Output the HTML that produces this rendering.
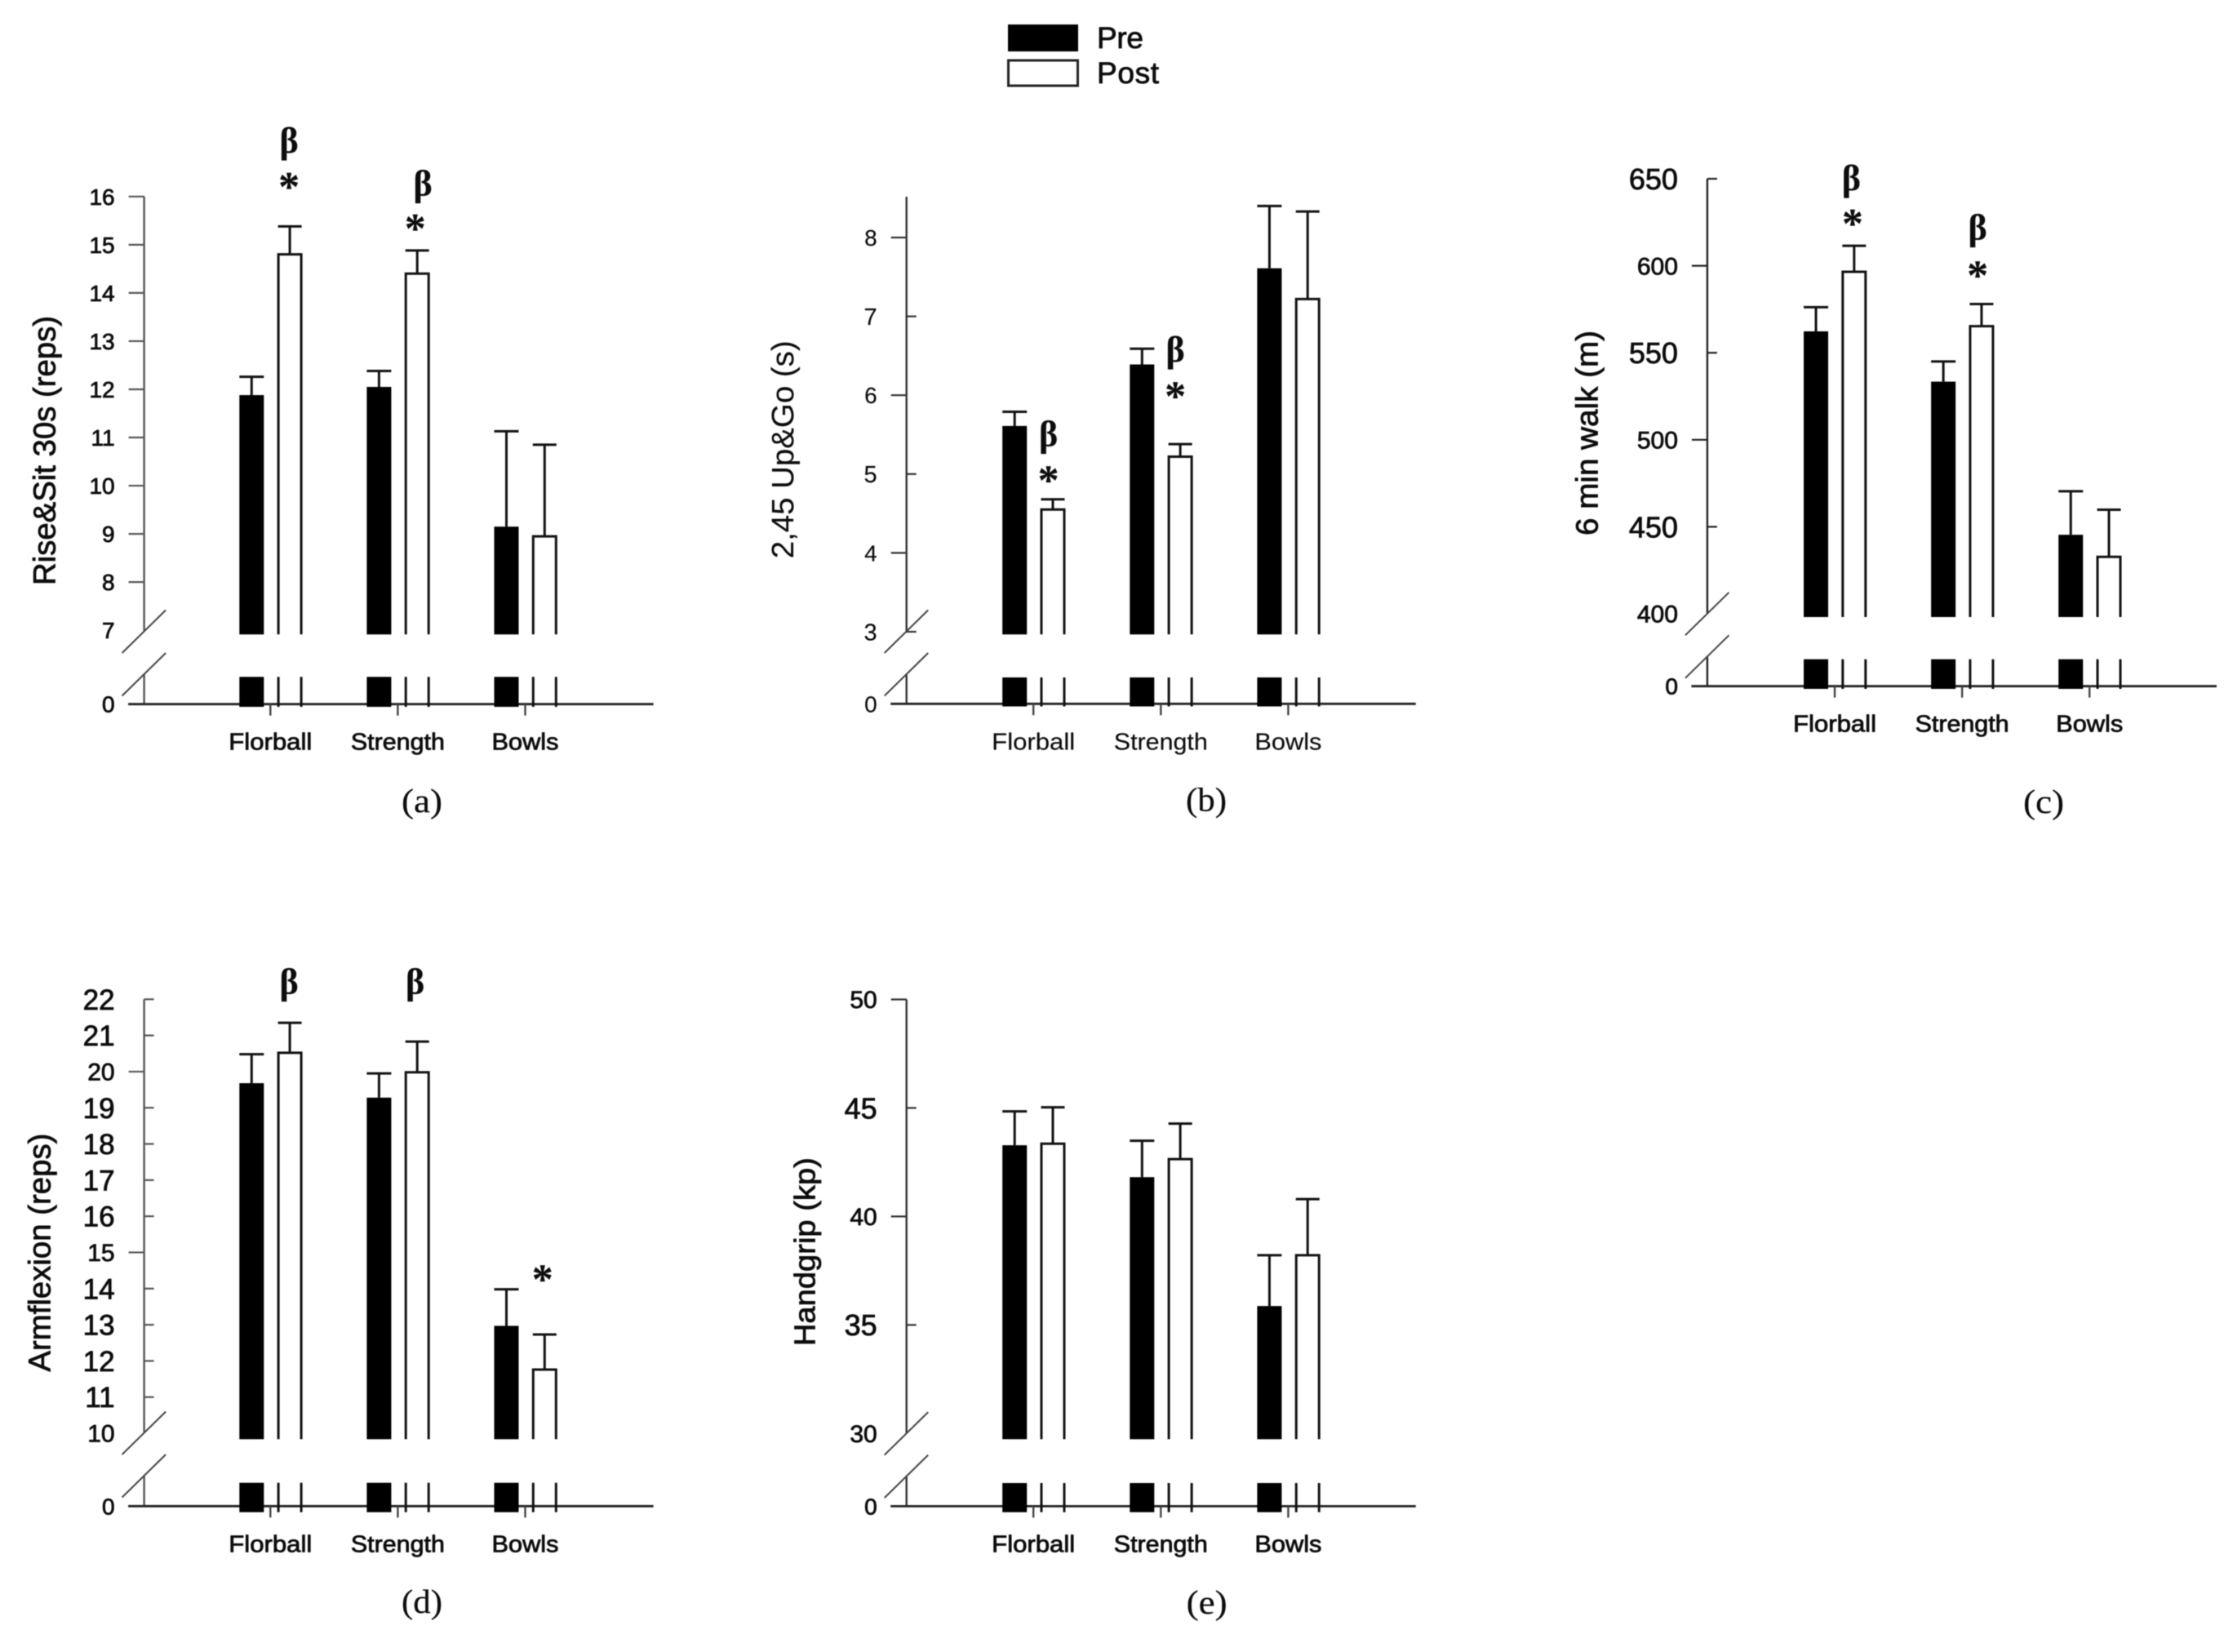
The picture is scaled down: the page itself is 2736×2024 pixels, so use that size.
<!DOCTYPE html>
<html lang="en">
<head>
<meta charset="utf-8">
<title>Pre and post physical test results</title>
<style>
html,body{margin:0;padding:0;background:#fff;width:2736px;height:2024px;overflow:hidden}
svg{position:absolute;left:0;top:0;display:block;filter:blur(.6px)}
text{font-family:"Liberation Sans",sans-serif;fill:#0c0c0c;stroke:#0c0c0c;stroke-width:.8px}
.light text{stroke-width:.15px}
text.serif{font-family:"Liberation Serif",serif;stroke-width:.2px}
</style>
</head>
<body>
<svg id="chart" xmlns="http://www.w3.org/2000/svg" width="2736" height="2024" viewBox="0 0 2736 2024">
  <rect x="0" y="0" width="2736" height="2024" fill="#fff"/>
  <g>
    <rect x="1235" y="30" width="86" height="33" fill="#000"/>
    <text x="1344" y="59" font-size="37" textLength="57">Pre</text>
    <rect x="1235.5" y="74" width="85" height="31" fill="#fff" stroke="#222" stroke-width="3"/>
    <text x="1344" y="102" font-size="37" textLength="76">Post</text>
  </g>
  <g id="panels"></g>
</svg>
<script>
const categories = ['Florball', 'Strength', 'Bowls'];

const riseTicks = [16, 15, 14, 13, 12, 11, 10, 9, 8, 7];
const risePre = [11.88, 12.05, 9.15];
const risePost = [14.8, 14.4, 8.95];
const risePreErrTop = [12.26, 12.38, 11.13];
const risePostErrTop = [15.38, 14.88, 10.85];

const upGoTicks = [8, 7, 6, 5, 4, 3];
const upGoPre = [5.61, 6.39, 7.61];
const upGoPost = [4.55, 5.22, 7.22];
const upGoPreErrTop = [5.79, 6.59, 8.4];
const upGoPostErrTop = [4.68, 5.38, 8.33];

const walkTicks = [650, 600, 550, 500, 450, 400];
const walkPre = [562.3, 533.4, 445.4];
const walkPost = [596.5, 565.3, 432.7];
const walkPreErrTop = [576.2, 545, 470.4];
const walkPostErrTop = [611.5, 578, 459.8];

const armTicks = [22, 21, 20, 19, 18, 17, 16, 15, 14, 13, 12, 11, 10];
const armPre = [19.68, 19.28, 12.97];
const armPost = [20.52, 19.98, 11.76];
const armPreErrTop = [20.48, 19.95, 13.98];
const armPostErrTop = [21.35, 20.83, 12.73];

const gripTicks = [50, 45, 40, 35, 30];
const gripPre = [43.28, 41.81, 35.87];
const gripPost = [43.35, 42.64, 38.21];
const gripPreErrTop = [44.84, 43.49, 38.21];
const gripPostErrTop = [45.03, 44.28, 40.8];

const SVGNS = 'http://www.w3.org/2000/svg';
const root = document.getElementById('panels');

function add(tag, attrs, parent) {
  const node = document.createElementNS(SVGNS, tag);
  for (const k in attrs) node.setAttribute(k, attrs[k]);
  parent.appendChild(node);
  return node;
}

function line(x1, y1, x2, y2, sw, color, parent) {
  return add('line', {x1: x1, y1: y1, x2: x2, y2: y2, 'stroke-width': sw, stroke: color}, parent);
}

function drawPanel(p) {
  const g = add('g', {class: p.light ? 'light' : ''}, root);
  
  

  const low = p.ticks[p.ticks.length - 1];
  const high = p.ticks[0];
  const yScale = v => p.yLowPx + (low - v) * (p.yLowPx - p.yHighPx) / (high - low);
  const xCat = i => p.firstCatX + i * 156.1;

  // y axis (broken)
  const upperAxis = line(p.axisX, p.axisTopPx, p.axisX, p.slashY - 27, 2.4, p.axisColor, g);
  
  
  const lowerAxis = line(p.axisX, p.slashY + 25.5, p.axisX, p.baseline, 2.4, p.axisColor, g);
  
  

  // axis-break slashes
  [0, 52.5].forEach(function (dy) {
    const s = line(p.axisX - 27, p.slashY + dy, p.axisX + 26.5, p.slashY + dy - 52.5, 2, '#444', g);
    
    
  });

  // x axis
  const xAxis = line(p.axisX - 19.5, p.baseline, p.axisX + 624, p.baseline, 2.8, '#222', g);
  
  

  // y ticks and labels
  p.ticks.forEach(function (t) {
    const y = yScale(t);
    const major = p.majorTicks.indexOf(t) >= 0;
    const showMark = t !== low || p.lowTick;
    if (showMark) {
      const tk = major ? line(p.axisX - 19, y, p.axisX, y, 2.2, p.axisColor, g)
                       : line(p.axisX, y, p.axisX + 12, y, 2.2, p.axisColor, g);
      
      
    }
    const size = major ? p.majorFont : p.minorFont;
    const lb = add('text', {x: p.axisX - 36, y: y + size * 0.358, 'font-size': size, 'text-anchor': 'end'}, g);
    lb.textContent = t;
    
    
  });
  const zeroLabel = add('text', {x: p.axisX - 36, y: p.baseline + 10, 'font-size': 28, 'text-anchor': 'end'}, g);
  zeroLabel.textContent = '0';
  
  

  // y title
  const title = add('text', {
    x: p.titleX, y: p.titleY, 'font-size': p.titleFont, 'text-anchor': 'middle',
    textLength: p.titleLen, lengthAdjust: 'spacingAndGlyphs',
    transform: 'rotate(-90 ' + p.titleX + ' ' + p.titleY + ')'
  }, g);
  title.textContent = p.title;
  
  

  // categories and bars
  const labelWidths = [102, 115, 82];
  categories.forEach(function (cat, i) {
    const cx = xCat(i);

    const tick = line(cx, p.baseline, cx, p.baseline + 14, 2.4, '#444', g);
    
    

    const label = add('text', {
      x: cx, y: p.baseline + 56, 'font-size': 29, 'text-anchor': 'middle',
      textLength: labelWidths[i], lengthAdjust: 'spacingAndGlyphs'
    }, g);
    label.textContent = cat;
    
    

    // Pre bar: solid, broken at the axis break
    const preUpper = add('rect', {
      x: cx - 38, y: yScale(p.pre[i]), width: 30, height: p.upperBottom - yScale(p.pre[i]), fill: '#000'
    }, g);
    
    
    const preLower = add('rect', {
      x: cx - 38, y: p.lowerTop, width: 30, height: p.barFoot - p.lowerTop, fill: '#000'
    }, g);
    
    

    // Pre error bar
    const preStem = line(cx - 23, yScale(p.preErr[i]), cx - 23, yScale(p.pre[i]), 3, '#111', g);
    
    
    const preCap = line(cx - 38, yScale(p.preErr[i]), cx - 8, yScale(p.preErr[i]), 3, '#111', g);
    
    

    // Post bar: outline, broken at the axis break
    const yPost = yScale(p.post[i]);
    const postUpper = add('path', {
      d: 'M' + (cx + 9.8) + ' ' + p.upperBottom + 'V' + yPost + 'H' + (cx + 37.8) + 'V' + p.upperBottom,
      fill: '#fff', stroke: '#111', 'stroke-width': 3
    }, g);
    
    
    [9.8, 37.8].forEach(function (dx) {
      const edge = line(cx + dx, p.lowerTop, cx + dx, p.barFoot, 3, '#111', g);
      
      
    });

    // Post error bar
    const postStem = line(cx + 23.8, yScale(p.postErr[i]), cx + 23.8, yPost, 3, '#111', g);
    
    
    const postCap = line(cx + 9.3, yScale(p.postErr[i]), cx + 38.3, yScale(p.postErr[i]), 3, '#111', g);
    
    
  });

  // significance markers: [symbol, position on the category axis (0, 1, 2), value on the y axis]
  p.notes.forEach(function (n) {
    const isBeta = n[0] === 'β';
    const size = isBeta ? 44 : 52;
    const offset = isBeta ? 11 : 21;
    const mark = add('text', {
      x: xCat(n[1]), y: yScale(n[2]) + offset, 'font-size': size,
      'font-weight': 'bold', 'text-anchor': 'middle', class: 'serif'
    }, g);
    mark.textContent = n[0];
    
    
  });

  // panel letter
  const tag = add('text', {
    x: p.tagX, y: p.tagY + 10, 'font-size': 41, 'text-anchor': 'middle', class: 'serif',
    textLength: 50, lengthAdjust: 'spacingAndGlyphs'
  }, g);
  tag.textContent = '(' + p.id + ')';
  
  
}

drawPanel({
  id: 'a', title: 'Rise&Sit 30s (reps)', titleX: 67.7, titleY: 552, titleLen: 330, titleFont: 38,
  ticks: riseTicks, majorTicks: riseTicks, majorFont: 28, minorFont: 28, lowTick: false,
  pre: risePre, post: risePost, preErr: risePreErrTop, postErr: risePostErrTop,
  axisX: 176.6, axisTopPx: 240.8, yHighPx: 240.8, yLowPx: 772.2, axisColor: '#555',
  baseline: 862.7, upperBottom: 777.3, lowerTop: 829.3, barFoot: 866, slashY: 800,
  firstCatX: 331.3, tagX: 517, tagY: 985,
  notes: [['β', 0.146, 17.1], ['*', 0.146, 16.27], ['β', 1.197, 16.21], ['*', 1.137, 15.4]]
});

drawPanel({
  id: 'b', light: true, title: '2,45 Up&Go (s)', titleX: 971.8, titleY: 550.8, titleLen: 267, titleFont: 38,
  ticks: upGoTicks, majorTicks: [8, 6, 4], majorFont: 28, minorFont: 29, lowTick: true,
  pre: upGoPre, post: upGoPost, preErr: upGoPreErrTop, postErr: upGoPostErrTop,
  axisX: 1110.7, axisTopPx: 241, yHighPx: 291, yLowPx: 774, axisColor: '#333',
  baseline: 862.3, upperBottom: 777.3, lowerTop: 830, barFoot: 865.5, slashY: 800,
  firstCatX: 1266.2, tagX: 1478, tagY: 983.6,
  notes: [['β', 0.118, 5.47], ['*', 0.118, 4.96], ['β', 1.114, 6.54], ['*', 1.114, 6.03]]
});

drawPanel({
  id: 'c', title: '6 min walk (m)', titleX: 1957.3, titleY: 530.5, titleLen: 251, titleFont: 38,
  ticks: walkTicks, majorTicks: [600, 500, 400], majorFont: 30, minorFont: 36, lowTick: false,
  pre: walkPre, post: walkPost, preErr: walkPreErrTop, postErr: walkPostErrTop,
  axisX: 2091.9, axisTopPx: 219, yHighPx: 219, yLowPx: 752, axisColor: '#222',
  baseline: 840.7, upperBottom: 756, lowerTop: 807.7, barFoot: 844, slashY: 778.3,
  firstCatX: 2248, tagX: 2504, tagY: 986,
  notes: [['β', 0.13, 648.7], ['*', 0.14, 626], ['β', 1.122, 620.2], ['*', 1.122, 596.2]]
});

drawPanel({
  id: 'd', title: 'Armflexion (reps)', titleX: 61.4, titleY: 1534.6, titleLen: 292, titleFont: 38,
  ticks: armTicks, majorTicks: [20, 15, 10], majorFont: 30, minorFont: 35, lowTick: false,
  pre: armPre, post: armPost, preErr: armPreErrTop, postErr: armPostErrTop,
  axisX: 176.6, axisTopPx: 1224.3, yHighPx: 1224.3, yLowPx: 1756, axisColor: '#555',
  baseline: 1845.3, upperBottom: 1763.3, lowerTop: 1816.7, barFoot: 1852.7, slashY: 1782,
  firstCatX: 331.3, tagX: 517, tagY: 1966,
  notes: [['β', 0.146, 22.4], ['β', 1.136, 22.4], ['*', 2.136, 14.34]]
});

drawPanel({
  id: 'e', title: 'Handgrip (kp)', titleX: 998.7, titleY: 1533.6, titleLen: 231, titleFont: 36,
  ticks: gripTicks, majorTicks: [50, 40, 30], majorFont: 30, minorFont: 36, lowTick: false,
  pre: gripPre, post: gripPost, preErr: gripPreErrTop, postErr: gripPostErrTop,
  axisX: 1110.7, axisTopPx: 1224.5, yHighPx: 1224.5, yLowPx: 1756.2, axisColor: '#333',
  baseline: 1845.4, upperBottom: 1763.3, lowerTop: 1817, barFoot: 1852.7, slashY: 1782.6,
  firstCatX: 1266.2, tagX: 1478.7, tagY: 1967,
  notes: []
});
</script>
</body>
</html>
